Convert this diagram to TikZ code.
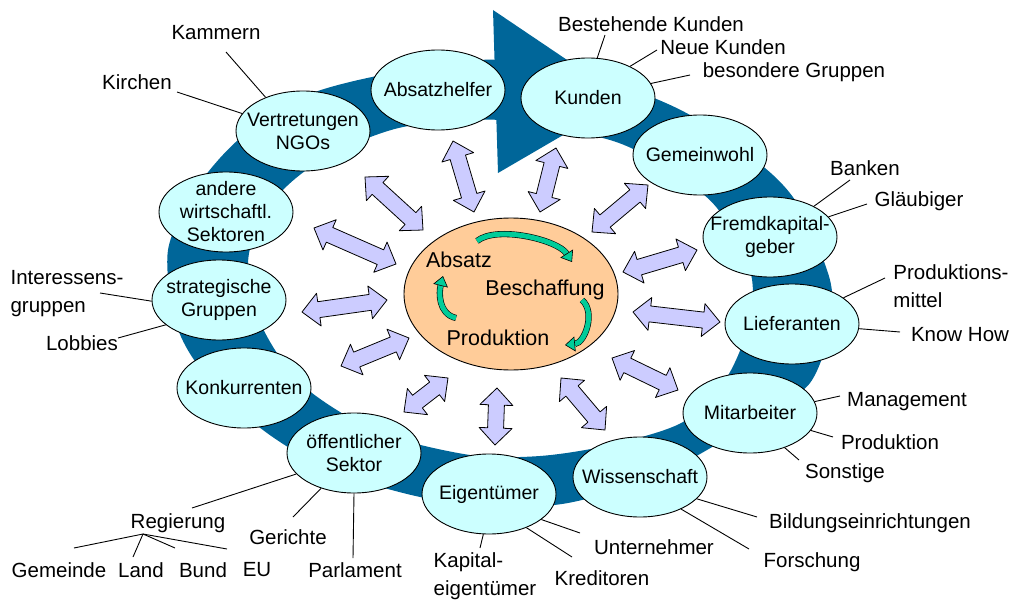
\documentclass[tikz,border=0pt]{standalone}
\usepackage{fontspec}
\setmainfont{Liberation Sans}
\usetikzlibrary{shapes.geometric,calc,arrows.meta}
\definecolor{ringblue}{RGB}{0,102,153}
\definecolor{ovalcyan}{RGB}{204,255,255}
\definecolor{hubpeach}{RGB}{255,204,153}
\definecolor{arrowlav}{RGB}{204,204,255}
\definecolor{cycgreen}{RGB}{0,204,153}
\newcommand\twoway[2]{%
  \coordinate (h1) at ($(#1)!17pt!(#2)$);
  \coordinate (h2) at ($(#2)!17pt!(#1)$);
  \draw[twoarrow] (#1) -- ($(h1)!16.5pt!90:(#2)$) -- ($(h1)!8pt!90:(#2)$)
    -- ($(h2)!8pt!-90:(#1)$) -- ($(h2)!16.5pt!-90:(#1)$) -- (#2)
    -- ($(h2)!16.5pt!90:(#1)$) -- ($(h2)!8pt!90:(#1)$)
    -- ($(h1)!8pt!-90:(#2)$) -- ($(h1)!16.5pt!-90:(#2)$) -- cycle;}
\begin{document}
\begin{tikzpicture}[
        x=1pt, y=-1pt,
        line join=round
    ]
    \tikzset{
        oval/.style = {ellipse, draw=black, line width=0.9pt, fill=ovalcyan, align=center,
            minimum width=134pt, minimum height=80pt, inner xsep=-22pt, inner ysep=-12pt,
            font=\fontsize{19.5}{23}\selectfont},
        hub/.style = {ellipse, draw=black, line width=0.9pt, fill=hubpeach,
            minimum width=214pt, minimum height=152pt},
        hubtext/.style = {font=\fontsize{21.5}{26}\selectfont},
        lbl/.style = {inner sep=1pt, align=center, font=\fontsize{20.5}{28}\selectfont},
        leader/.style = {draw=black, line width=0.9pt},
        twoarrow/.style = {draw=black, line width=0.8pt, fill=arrowlav},
        cyc/.style = {draw=black, line width=0.6pt, double=cycgreen, double distance=5pt,
            -{Triangle[width=15pt, length=10pt, fill=cycgreen, line width=0.6pt]}},
    }
    \useasboundingbox (0,0) rectangle (1018,602);
    % ring with arrow head
    \fill[ringblue, even odd rule]
        plot[smooth cycle] coordinates {(480,60) (372,77) (300,98) (238,140) (195,190)
            (168,250) (175,320) (200,368) (259,427) (330,470) (420,497) (500,507)
            (568,503) (650,480) (700,454) (765,415) (810,383) (830,330) (830,280)
            (800,208) (765,168) (690,115) (620,85) (550,65)}
        plot[smooth cycle] coordinates {(500,120) (403,127) (330,155) (283,190) (255,235)
            (248,265) (255,310) (277,353) (312,393) (380,433) (470,455) (540,456)
            (610,445) (683,422) (727,377) (750,320) (750,270) (717,208) (670,170)
            (610,140)};
    \fill[ringblue] (493,10) -- (498,173) -- (625,99) -- cycle;
    %
    \node[oval] (absatz) at (438,90) {Absatzhelfer};
    \node[oval] (kunden) at (588,98) {Kunden};
    \node[oval] (gemein) at (700,155) {Gemeinwohl};
    \node[oval] (fremd) at (770,237) {Fremdkapital-\\geber};
    \node[oval] (liefer) at (792,324) {Lieferanten};
    \node[oval] (mitarb) at (750,413) {Mitarbeiter};
    \node[oval] (wissen) at (640,477) {Wissenschaft};
    \node[oval] (eigen) at (489,494) {Eigentümer};
    \node[oval] (oeff) at (354,453) {öffentlicher\\Sektor};
    \node[oval] (konk) at (244,388) {Konkurrenten};
    \node[oval] (strat) at (219,300) {strategische\\Gruppen};
    \node[oval] (andere) at (226,212) {andere\\wirtschaftl.\\Sektoren};
    \node[oval] (vertr) at (303,131) {Vertretungen\\NGOs};
    %
    \node[hub] (hub) at (511,294) {};
    \node[hubtext] (abs) at (459,260) {Absatz};
    \node[hubtext] (besch) at (545,290) {Beschaffung};
    \node[hubtext] (prod) at (498,338) {Produktion};
    \draw[cyc] ([shift={(18,-19)}]abs.center) .. controls +(20,-16) and +(-14,-22) .. ([shift={(27,-28)}]besch.center);
    \draw[cyc] ([shift={(37,10)}]besch.center) .. controls +(14,12) and +(20,-2) .. ([shift={(67,7)}]prod.center);
    \draw[cyc] ([shift={(-42,-20)}]prod.center) .. controls +(-18,-4) and +(-4,16) .. ([shift={(-16,16)}]abs.center);
    %
    \foreach \nm/\xa/\ya/\xb/\yb in {absatz/474/212/453/141, kunden/540/212/556/148,
        gemein/592/232/648/185, fremd/623/272/697/250, liefer/633/312/720/322,
        mitarb/612/358/678/390, wissen/561/378/605/430, eigen/497/388/495/445,
        oeff/448/378/404/412, konk/409/338/341/366, strat/387/300/302/312,
        andere/396/264/314/228, vertr/423/230/365/177}{
        \coordinate (\nm-in) at (\xa,\ya);
        \coordinate (\nm-out) at (\xb,\yb);
        \twoway{\nm-in}{\nm-out}
    }
    %
    \node[lbl] (kammern) at (216,33) {Kammern};
    \node[lbl] (kirchen) at (137,82) {Kirchen};
    \node[lbl, align=left] (interessen) at (67,294) {Interessens-\\gruppen};
    \node[lbl] (lobbies) at (82,343) {Lobbies};
    \node[lbl] (regierung) at (178,523) {Regierung};
    \node[lbl] (gemeinde) at (59,570) {Gemeinde};
    \node[lbl] (land) at (141,570) {Land};
    \node[lbl] (bund) at (203,570) {Bund};
    \node[lbl] (eu) at (257,570) {EU};
    \node[lbl] (gerichte) at (288,537) {Gerichte};
    \node[lbl] (parlament) at (355,570) {Parlament};
    \node[lbl, align=left] (kapital) at (485,576) {Kapital-\\eigentümer};
    \node[lbl] (kreditoren) at (602,578) {Kreditoren};
    \node[lbl] (unternehmer) at (654,547) {Unternehmer};
    \node[lbl] (forschung) at (812,562) {Forschung};
    \node[lbl] (bildung) at (870,523) {Bildungseinrichtungen};
    \node[lbl] (sonstige) at (845,473) {Sonstige};
    \node[lbl] (produktion) at (890,442) {Produktion};
    \node[lbl] (management) at (907,402) {Management};
    \node[lbl] (knowhow) at (960,335) {Know How};
    \node[lbl, align=left] (mittel) at (951,286) {Produktions-\\mittel};
    \node[lbl] (glaeubiger) at (919,201) {Gläubiger};
    \node[lbl] (banken) at (865,168) {Banken};
    \node[lbl] (besondere) at (794,72) {besondere Gruppen};
    \node[lbl] (neue) at (723,47) {Neue Kunden};
    \node[lbl] (bestehende) at (651,24) {Bestehende Kunden};
    %
    \draw[leader] ([shift={(10,19)}]kammern.center) -- (vertr.138);
    \draw[leader] ([shift={(40,10)}]kirchen.center) -- (vertr.164);
    \draw[leader] ([shift={(33,-1)}]interessen.center) -- (strat.181);
    \draw[leader] ([shift={(36,-5)}]lobbies.center) -- (strat.205);
    \draw[leader] ([shift={(14,-15)}]regierung.center) -- (oeff.200);
    \draw[leader] ([shift={(5,-20)}]gerichte.center) -- (oeff.227);
    \draw[leader] ([shift={(-2,-12)}]parlament.center) -- (oeff.270);
    \draw[leader] ([shift={(-5,-28)}]kapital.center) -- (eigen.262);
    \draw[leader] ([shift={(-30,-21)}]kreditoren.center) -- (eigen.318);
    \draw[leader] ([shift={(-74,-14)}]unternehmer.center) -- (eigen.334);
    \draw[leader] ([shift={(-63,-13)}]forschung.center) -- (wissen.322);
    \draw[leader] ([shift={(-113,-6)}]bildung.center) -- (wissen.339);
    \draw[leader] ([shift={(-46,-13)}]sonstige.center) -- (mitarb.315);
    \draw[leader] ([shift={(-57,-5)}]produktion.center) -- (mitarb.344);
    \draw[leader] ([shift={(-67,-6)}]management.center) -- (mitarb.10);
    \draw[leader] ([shift={(-60,-3)}]knowhow.center) -- (liefer.356);
    \draw[leader] ([shift={(-66,-8)}]mittel.center) -- (liefer.27);
    \draw[leader] ([shift={(-52,3)}]glaeubiger.center) -- (fremd.19);
    \draw[leader] ([shift={(-15,12)}]banken.center) -- (fremd.35);
    \draw[leader] ([shift={(-104,3)}]besondere.center) -- (kunden.13);
    \draw[leader] ([shift={(-66,3)}]neue.center) -- (kunden.37);
    \draw[leader] ([shift={(-46,11)}]bestehende.center) -- (kunden.77);
    %
    \coordinate (gov) at ([shift={(-35,11)}]regierung.center);
    \draw[leader] (gov) -- ([shift={(15,-22)}]gemeinde.center);
    \draw[leader] (gov) -- ([shift={(-8,-13)}]land.center);
    \draw[leader] (gov) -- ([shift={(-28,-22)}]bund.center);
    \draw[leader] (gov) -- ([shift={(-30,-21)}]eu.center);
\end{tikzpicture}
\end{document}
